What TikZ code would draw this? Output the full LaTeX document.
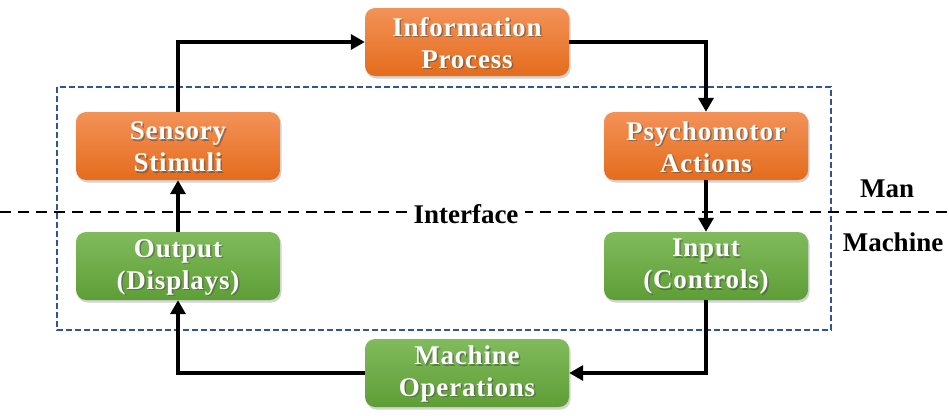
\documentclass[tikz,border=0pt]{standalone}
\usepackage{fontspec}
\setmainfont{Liberation Serif}
\usetikzlibrary{arrows.meta,shadows,calc}
\definecolor{orangeTop}{RGB}{243,146,88}
\definecolor{orangeBot}{RGB}{228,108,28}
\definecolor{greenTop}{RGB}{128,187,92}
\definecolor{greenBot}{RGB}{94,158,54}
\definecolor{frameBlue}{RGB}{47,85,151}
\tikzset{
  box/.style={rectangle, rounded corners=10pt, minimum width=204pt, minimum height=68pt,
    inner sep=0pt,
    drop shadow={opacity=0.35, shadow xshift=1.5pt, shadow yshift=-2.5pt}},
  manbox/.style={box, top color=orangeTop, bottom color=orangeBot},
  machbox/.style={box, top color=greenTop, bottom color=greenBot},
  label/.style={rectangle, inner sep=0pt, align=center, text=white,
    font=\fontsize{27}{32}\selectfont\bfseries\addfontfeatures{LetterSpace=3}},
  glow/.style={label, text=black!70, opacity=0.55},
  flow/.style={line width=3.4pt, -{Triangle[length=14pt,width=15pt]}},
  side/.style={font=\fontsize{27}{32}\selectfont\bfseries, text=black, inner sep=1pt},
}
% shaded box with a soft shadow under its white lettering
\newcommand{\stagebox}[4]{%
  \node[#3] (#1) at #2 {};
  \node[glow] at ($(#1)+(1.5,2.5)$) {#4};
  \node[label] (#1-text) at ($(#1)+(0,1)$) {#4};
}
\begin{document}
\begin{tikzpicture}[x=1pt,y=-1pt]
\useasboundingbox (0,0) rectangle (949,415);

% man/machine boundary
\draw[frameBlue, line width=1.6pt, dash pattern=on 6pt off 3pt] (57,87) rectangle (831,330);
\draw[black, line width=1.8pt, dash pattern=on 11pt off 7pt] (0,212) -- (949,212);
\node[side, fill=white, inner xsep=7pt] (iface) at (466,214) {Interface};
\node[side] (man) at (887,189) {Man};
\node[side] (mach) at (893,242) {Machine};

% stages of the loop
\stagebox{info}{(467,42)}{manbox}{Information\\Process}
\stagebox{sens}{(178,146)}{manbox}{Sensory\\Stimuli}
\stagebox{psy}{(706,146)}{manbox}{Psychomotor\\Actions}
\stagebox{out}{(178,266)}{machbox}{Output\\(Displays)}
\stagebox{inp}{(706,266)}{machbox}{Input\\(Controls)}
\stagebox{mop}{(467,373)}{machbox}{Machine\\Operations}

% closed loop
\draw[flow] (sens.north) |- (info.west);
\draw[flow] (info.east) -| (psy.north);
\draw[flow] (psy.south) -- (inp.north);
\draw[flow] (inp.south) |- (mop.east);
\draw[flow] (mop.west) -| (out.south);
\draw[flow] (out.north) -- (sens.south);
\end{tikzpicture}
\end{document}
